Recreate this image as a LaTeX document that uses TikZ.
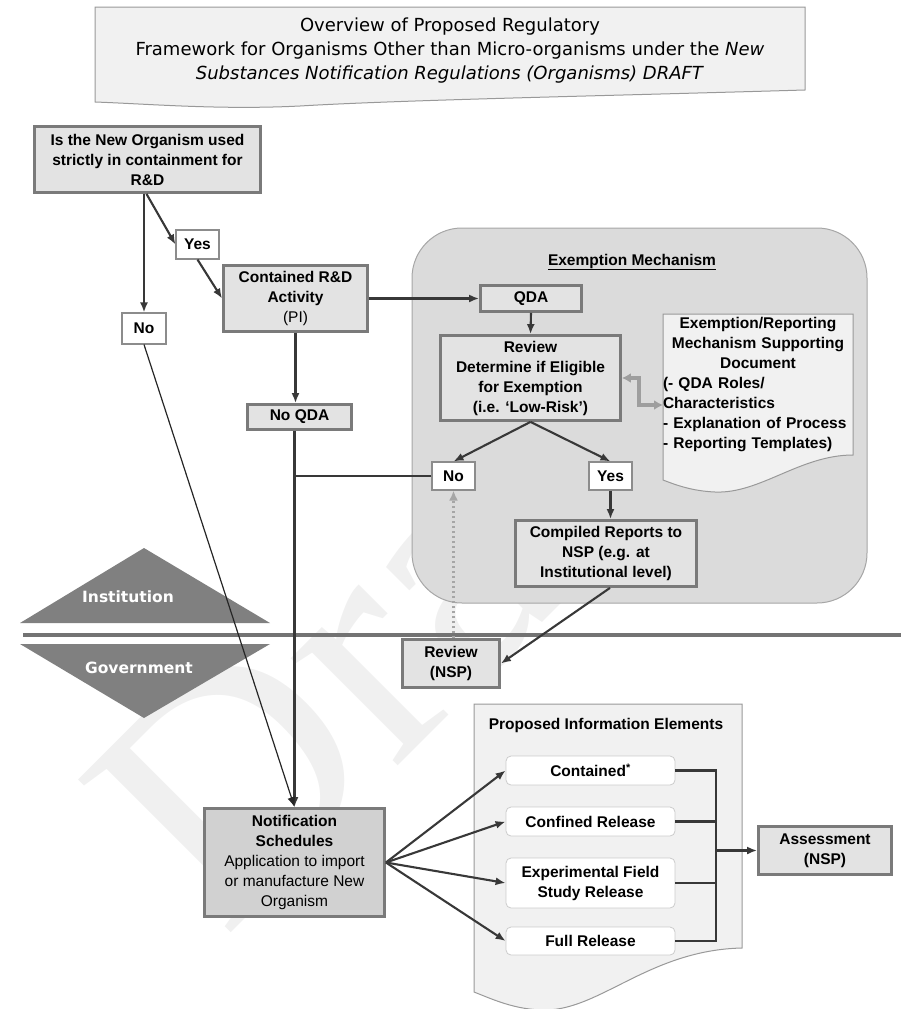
\documentclass[tikz,border=0pt]{standalone}
\usepackage{fontspec}
\setmainfont{Liberation Sans}
\newfontfamily\titlefont{DejaVu Sans}
\newfontfamily\wmfont{Liberation Serif}
\usepackage{tikz}
\usetikzlibrary{shapes, arrows.meta, calc, positioning}
\definecolor{boxgray}{gray}{0.89}
\definecolor{darkboxgray}{gray}{0.82}
\definecolor{mechgray}{gray}{0.86}
\definecolor{paper}{gray}{0.945}
\tikzset{basetext/.style={font=\fontsize{15.5}{20}\selectfont\bfseries}}
\tikzset{procbox/.style={basetext, draw=black!52, line width=2.8pt, fill=boxgray, align=center, inner sep=0pt}}
\tikzset{notifbox/.style={procbox, fill=darkboxgray}}
\tikzset{answerbox/.style={basetext, draw=black!45, line width=1.1pt, fill=white, align=center, inner sep=0pt}}
\tikzset{infobox/.style={basetext, draw=black!20, line width=0.8pt, fill=white, rounded corners=5pt, align=center, inner sep=0pt, minimum width=169pt}}
\tikzset{link/.style={draw=black!78, line width=2.1pt}}
\tikzset{arrowlink/.style={link, -{Latex[length=10pt,width=8pt]}}}
\tikzset{thinlink/.style={draw=black!85, line width=1.2pt, -{Latex[length=10pt,width=8pt]}}}
\tikzset{dotlink/.style={draw=black!35, line width=2.6pt, dash pattern=on 2.5pt off 2.5pt, -{Latex[length=10pt,width=9pt]}}}
\tikzset{twoway/.style={draw=black!38, line width=3.4pt, {Latex[length=9pt,width=10pt]}-{Latex[length=9pt,width=10pt]}}}
\tikzset{paperdoc/.style={fill=paper, draw=black!40, line width=1pt}}
\tikzset{sidelabel/.style={font=\titlefont\fontsize{15.5}{18}\selectfont\bfseries, text=white}}

\begin{document}
\begin{tikzpicture}[x=1pt, y=-1pt]
        \useasboundingbox (0,0) rectangle (901,1009);
        \node[rotate=45, text=black!6, font=\wmfont\fontsize{330}{330}\selectfont] (Ndraft) at (390,612) {Draft};

        \draw[paperdoc] (95,7) -- (805,7) -- (805,90) .. controls (600,96) and (400,100) .. (300,106) .. controls (220,110) and (150,104) .. (95,102) -- cycle;
        \node[font=\titlefont\fontsize{18}{24}\selectfont, align=center] (Ntitle) at (450,51) {Overview of Proposed Regulatory\\Framework for Organisms Other than Micro-organisms under the \textit{New}\\\textit{Substances Notification Regulations (Organisms) DRAFT}};

        \draw[black!55, line width=3.5pt] (23,635) -- (901,635);
        \fill[black!50] (20,623) -- (144,548) -- (270,623) -- cycle;
        \fill[black!50] (20,644) -- (270,644) -- (144,718) -- cycle;
        \node[sidelabel] (Ninst) at (128,597) {Institution};
        \node[sidelabel] (Ngov) at (139,668) {Government};

        \draw[fill=mechgray, draw=black!35, line width=1pt, rounded corners=50pt] (412,228) rectangle (867,603);
        \node[basetext] (Nmech) at (632,262) {\underline{Exemption Mechanism}};

        \draw[paperdoc] (663,314) -- (853,314) -- (853,455) .. controls (800,455) and (760,494) .. (715,492) .. controls (692,491) and (676,485) .. (663,480) -- cycle;
        \node[basetext, text width=190pt, align=left, inner sep=0pt] (Ndoc) at (758,385) {\makebox[190pt]{Exemption/Reporting}\\\makebox[190pt]{Mechanism Supporting}\\\makebox[190pt]{Document}\\(- QDA Roles/\\Characteristics\\- Explanation of Process\\- Reporting Templates)};
        \coordinate (Cdoc) at (663,405);

        \draw[paperdoc] (474,704) -- (742,704) -- (742,948) .. controls (650,950) and (600,1010) .. (545,1010) .. controls (515,1010) and (492,999) .. (474,992) -- cycle;
        \node[basetext] (Nprop) at (606,725) {Proposed Information Elements};

        \node[procbox, minimum width=226pt, minimum height=66pt] (Nquest) at (147.5,159.5) {Is the New Organism used\\strictly in containment for\\R\&D};
        \node[answerbox, minimum width=44pt, minimum height=31pt] (Nno) at (144,328.5) {No};
        \node[answerbox, minimum width=43pt, minimum height=29pt] (Nyes) at (197.5,244.5) {Yes};
        \node[procbox, minimum width=144pt, minimum height=66pt] (Nrd) at (295.5,298.5) {Contained R\&D\\Activity\\{\mdseries (PI)}};
        \node[procbox, minimum width=104pt, minimum height=25pt] (Nnoqda) at (299.5,417) {No QDA};
        \node[procbox, minimum width=101pt, minimum height=26pt] (Nqda) at (531,298.5) {QDA};
        \node[procbox, minimum width=180pt, minimum height=85pt] (Nreview) at (530.5,378) {Review\\Determine if Eligible\\for Exemption\\(i.e. ‘Low-Risk’)};
        \node[answerbox, minimum width=43pt, minimum height=28pt] (Nno2) at (453.5,476) {No};
        \node[answerbox, minimum width=43pt, minimum height=28pt] (Nyes2) at (610.5,476) {Yes};
        \node[procbox, minimum width=181pt, minimum height=66pt] (Ncomp) at (606,553.5) {Compiled Reports to\\NSP (e.g. at\\Institutional level)};
        \node[procbox, minimum width=97pt, minimum height=48pt] (Nrnsp) at (451,663.5) {Review\\(NSP)};
        \node[notifbox, minimum width=180pt, minimum height=108pt] (Nnotif) at (294.5,862.5) {Notification\\Schedules\\{\mdseries Application to import}\\{\mdseries or manufacture New}\\{\mdseries Organism}};

        \node[infobox, minimum height=29pt] (Ncont) at (590.5,770.5) {Contained\textsuperscript{*}};
        \node[infobox, minimum height=29pt] (Nconf) at (590.5,821.5) {Confined Release};
        \node[infobox, minimum height=50pt] (Nexp) at (590.5,883) {Experimental Field\\Study Release};
        \node[infobox, minimum height=28pt] (Nfull) at (590.5,941) {Full Release};
        \node[procbox, minimum width=133pt, minimum height=48pt] (Nassess) at (825,850.5) {Assessment\\(NSP)};
        \coordinate (Cbus) at (716,850.5);

        \draw [arrowlink] (Nno.north |- Nquest.south) -- (Nno.north);
        \draw [arrowlink] ([xshift=-1pt]Nquest.south) -- (Nyes.west);
        \draw [arrowlink] (Nyes.south) -- (Nrd.west);
        \draw [arrowlink] (Nrd.east) -- (Nqda.west);
        \draw [arrowlink] (Nrd.south) -- (Nrd.south |- Nnoqda.north);
        \draw [arrowlink] (Nqda.south) -- (Nreview.north);
        \draw [arrowlink] (Nreview.south) -- (Nno2.north);
        \draw [arrowlink] (Nreview.south) -- (Nyes2.north);
        \draw [arrowlink] (Nyes2.south) -- (Nyes2.south |- Ncomp.north);
        \draw [arrowlink] ([xshift=4pt]Ncomp.south) -- (Nrnsp.east);
        \draw [dotlink] (Nno2.south |- Nrnsp.north) -- (Nno2.south);
        \draw [twoway] (Nreview.east) -- ++(17,0) |- (Cdoc);

        \draw [link] (Nno2.west) -- (Nno2.west -| Nnotif.north);
        \draw [arrowlink] (Nnotif.north |- Nnoqda.south) -- (Nnotif.north);
        \draw [thinlink] (Nno.south) -- (Nnotif.north);

        \draw [arrowlink] (Nnotif.east) -- (Ncont.west);
        \draw [arrowlink] (Nnotif.east) -- (Nconf.west);
        \draw [arrowlink] (Nnotif.east) -- (Nexp.west);
        \draw [arrowlink] (Nnotif.east) -- (Nfull.west);

        \draw [link] (Ncont.east) -- (Ncont.east -| Cbus) -- (Nfull.east -| Cbus) -- (Nfull.east);
        \draw [link] (Nconf.east) -- (Nconf.east -| Cbus);
        \draw [link] (Nexp.east) -- (Nexp.east -| Cbus);
        \draw [arrowlink] (Cbus) -- (Nassess.west);
    \end{tikzpicture}
\end{document}
